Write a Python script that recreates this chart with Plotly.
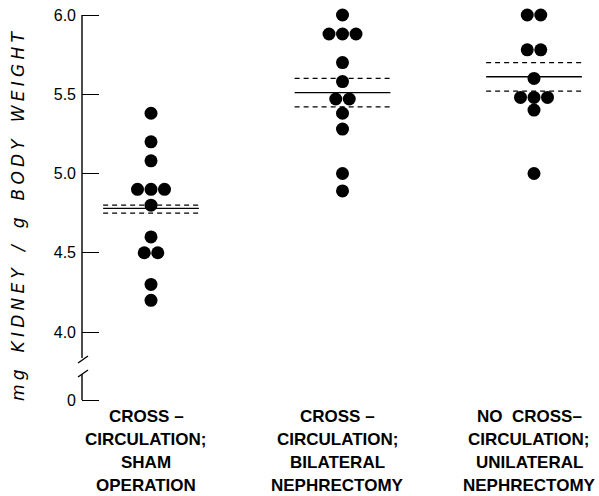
import plotly.graph_objects as go

# ---------------- data ----------------
group_names = ["Sham operation", "Bilateral nephrectomy", "Unilateral nephrectomy"]
group_positions = [1, 2, 3]
label_lines = [
    ["CROSS –", "CIRCULATION;", "SHAM", "OPERATION"],
    ["CROSS –", "CIRCULATION;", "BILATERAL", "NEPHRECTOMY"],
    ["NO  CROSS–", "CIRCULATION;", "UNILATERAL", "NEPHRECTOMY"],
]
sham_values = [5.38, 5.20, 5.08, 4.90, 4.90, 4.90, 4.80, 4.60, 4.50, 4.50, 4.30, 4.20]
bilateral_values = [6.00, 5.88, 5.88, 5.88, 5.70, 5.58, 5.47, 5.47, 5.38, 5.28, 5.00, 4.89]
unilateral_values = [6.00, 6.00, 5.78, 5.78, 5.60, 5.48, 5.48, 5.48, 5.40, 5.00]
group_values = [sham_values, bilateral_values, unilateral_values]
means = [4.78, 5.51, 5.61]
sem_upper = [4.80, 5.60, 5.70]
sem_lower = [4.75, 5.42, 5.52]
tick_values = [4.0, 4.5, 5.0, 5.5, 6.0]
tick_labels = ["4.0", "4.5", "5.0", "5.5", "6.0"]
zero_label = "0"
y_title = "mg KIDNEY / g BODY WEIGHT"

# ---------------- layout geometry ----------------
W, H = 599, 496
ML, MR, MT, MB = 82, 0, 5, 91
PW, PH = W - ML - MR, H - MT - MB
X_SCALE = 191.5          # px per group unit
Y_SCALE = 158.5          # px per kidney unit
x0 = 1 - (151 - ML) / X_SCALE
x1 = x0 + PW / X_SCALE
y_top = 6.0 + (15 - MT) / Y_SCALE
y_bot = y_top - PH / Y_SCALE


def ypx(p):  # pixel row -> data y
    return 6.0 - (p - 15) / Y_SCALE


def ypaper(p):  # pixel row -> paper y
    return (MT + PH - p) / PH


zero_pos = ypx(400)
dot_step = 13.5 / X_SCALE
half_len = 0.25

fig = go.Figure()

# dots, side-by-side for repeated values
for gpos, vals in zip(group_positions, group_values):
    xs, ys = [], []
    seen = {}
    for v in vals:
        seen[v] = seen.get(v, 0) + 1
    for v, k in seen.items():
        for i in range(k):
            xs.append(gpos + (i - (k - 1) / 2) * dot_step)
            ys.append(v)
    fig.add_trace(go.Scatter(x=xs, y=ys, mode="markers",
                             marker=dict(size=13, color="black"),
                             showlegend=False, hoverinfo="y"))

# mean and SEM lines
for gpos, m, up, lo in zip(group_positions, means, sem_upper, sem_lower):
    xl = [gpos - half_len, gpos + half_len]
    fig.add_trace(go.Scatter(x=xl, y=[m, m], mode="lines",
                             line=dict(color="black", width=1.4),
                             showlegend=False, hoverinfo="skip"))
    for v in (up, lo):
        fig.add_trace(go.Scatter(x=xl, y=[v, v], mode="lines",
                                 line=dict(color="black", width=1.2, dash="5px,4px"),
                                 showlegend=False, hoverinfo="skip"))

# broken y-axis line
shapes = [
    dict(type="line", xref="paper", yref="y", x0=0, x1=0, y0=6.0, y1=ypx(358),
         line=dict(color="black", width=1.4)),
    dict(type="line", xref="paper", yref="y", xsizemode="pixel", xanchor=0,
         x0=-4, x1=6, y0=ypx(363), y1=ypx(356), line=dict(color="black", width=1.4)),
    dict(type="line", xref="paper", yref="y", xsizemode="pixel", xanchor=0,
         x0=-4, x1=6, y0=ypx(377), y1=ypx(370), line=dict(color="black", width=1.4)),
    dict(type="line", xref="paper", yref="y", x0=0, x1=0, y0=ypx(374), y1=zero_pos,
         line=dict(color="black", width=1.4)),
]

annotations = []
row_px = [416, 439, 462, 485]
label_font = dict(family="Liberation Sans, Arial", size=17, color="black", weight="bold")
for gpos, lines in zip(group_positions, label_lines):
    for txt, rp in zip(lines, row_px):
        annotations.append(dict(x=gpos - 0.025, y=ypaper(rp), xref="x", yref="paper",
                                text=txt, showarrow=False, xanchor="center",
                                yanchor="middle", font=label_font))

spaced_title = "\u2005".join(y_title).replace("\u2005 \u2005", "\u2002\u2002")
annotations.append(dict(x=(18 - ML) / PW, y=ypaper(216), xref="paper", yref="paper",
                        text=spaced_title, textangle=-90, showarrow=False,
                        xanchor="center", yanchor="middle",
                        font=dict(family="DejaVu Sans", size=17, color="black",
                                  style="italic")))

fig.update_layout(
    width=W, height=H,
    margin=dict(l=ML, r=MR, t=MT, b=MB, pad=0),
    paper_bgcolor="white", plot_bgcolor="white",
    showlegend=False,
    shapes=shapes,
    annotations=annotations,
    xaxis=dict(range=[x0, x1], visible=False, showgrid=False, zeroline=False),
    yaxis=dict(range=[y_bot, y_top], showgrid=False, zeroline=False, showline=False,
               tickmode="array", tickvals=[zero_pos] + tick_values,
               ticktext=[zero_label] + tick_labels,
               ticks="inside", ticklen=17, tickwidth=1.4, tickcolor="black",
               ticklabelstandoff=5,
               tickfont=dict(family="Liberation Sans, Arial", size=16, color="black")),
)

fig.write_html("out.html", config={"displayModeBar": False},
               post_script="document.body.style.margin='0';document.body.style.padding='0';")
